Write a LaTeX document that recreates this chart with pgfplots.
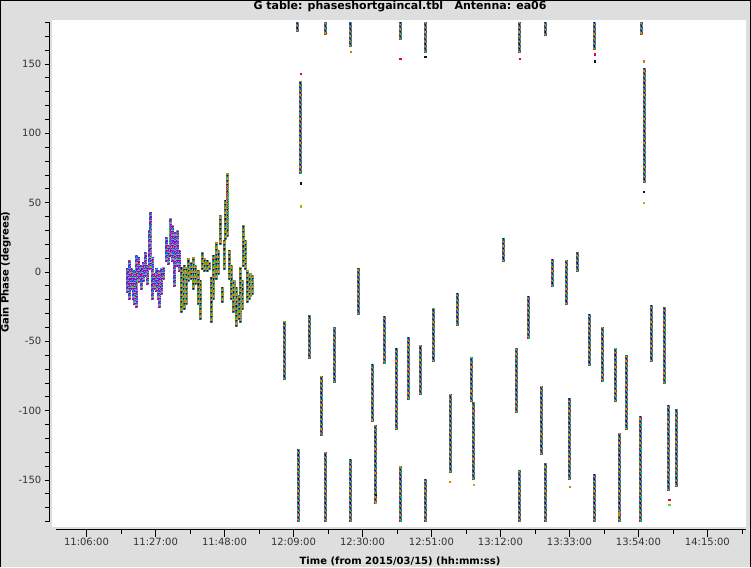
\documentclass[border=0pt]{standalone}
\usepackage{fontspec}
\setmainfont{DejaVu Sans}
\usepackage{pgfplots}
\pgfplotsset{compat=1.18}
\usepackage{pgfplotstable}

\definecolor{bggray}{RGB}{222,222,222}
\definecolor{cRed}{HTML}{E0005A}
\definecolor{cGreen}{HTML}{00D200}
\definecolor{cLime}{HTML}{7FCC00}
\definecolor{cBlue}{HTML}{0050FF}
\definecolor{cPurple}{HTML}{7F00FF}
\definecolor{cLav}{HTML}{B070E0}
\definecolor{cOrange}{HTML}{D08000}
\definecolor{cTeal}{HTML}{0096B4}
\definecolor{cBlack}{HTML}{141414}

% t = minutes after 11:00:00, lo/hi = gain phase range of the scan (deg)
\pgfplotstableread{
t lo hi
18.33 -15.1 2.9
18.94 -20.2 8.7
19.55 -13.0 2.9
20.16 -20.2 -2.2
20.76 -23.8 1.4
21.07 -13.0 12.3
21.37 -26.0 -5.8
21.98 -7.9 10.8
22.59 -13.0 5.0
23.20 -7.2 7.2
23.81 -3.6 14.4
24.42 -9.4 5.0
25.03 1.4 30.3
25.33 7.2 43.3
25.63 1.4 33.9
25.94 -20.2 10.8
26.55 -13.0 -0.7
27.16 -14.4 2.9
27.77 -20.2 1.4
28.37 -26.0 -2.2
28.98 -16.6 2.9
29.59 -5.8 3.6
30.20 7.2 25.2
30.81 5.0 19.5
31.42 10.8 33.9
31.72 15.9 38.9
32.03 7.2 33.9
32.64 -10.8 25.2
33.24 7.2 28.8
33.85 3.6 30.3
34.46 0.0 15.9
}\bandA

\pgfplotstableread{
t lo hi
34.77 -29.6 3.6
35.38 -20.2 1.4
35.98 -27.4 5.0
36.59 -23.8 3.6
37.20 -7.2 10.1
37.81 -5.8 7.2
38.72 -13.0 10.8
39.33 -9.4 5.0
39.94 -23.8 1.4
40.55 -34.6 -5.8
41.46 1.4 14.4
42.07 0.0 10.1
42.68 0.0 8.7
43.29 1.4 7.2
44.20 -36.8 -3.6
44.81 -20.2 12.3
45.42 -5.8 21.6
46.03 -2.2 15.9
46.64 19.5 41.1
47.25 -22.4 -10.8
47.86 1.4 23.1
48.46 23.1 51.9
48.77 30.3 71.4
49.07 25.2 62.7
49.38 -5.8 15.9
49.99 -20.2 5.0
50.60 -29.6 -5.8
51.20 -23.8 -5.8
51.81 -39.7 -10.8
52.42 -34.6 -16.6
52.73 -36.8 3.6
53.34 -27.4 -5.8
53.94 3.6 33.9
54.25 1.4 23.1
54.86 -22.4 1.4
55.47 -20.2 -2.2
56.07 -18.0 -0.7
56.68 -16.6 -2.2
}\bandB

\pgfplotstableread{
t lo hi
66.21 -78 -35
70.38 -180 -128
70.20 173 180
71.20 71 138
73.82 -63 -31
77.59 -118 -75
78.81 -180 -130
78.81 171 180
81.43 -80 -40
86.42 -180 -135
86.42 162 180
88.74 -31 3
93.12 -108 -66
94.03 -167 -110
96.56 -66 -32
100.42 -114 -55
101.43 -180 -140
101.43 167 180
103.95 -92 -47
107.73 -89 -53
109.04 -180 -149
109.04 158 180
111.56 -65 -26
116.65 -145 -88
118.99 -39 -15
123.19 -94 -61
123.95 -150 -94
132.87 7 24.5
136.95 -102 -55
137.95 -180 -143
137.95 158 180
140.48 -48 -17
144.44 -132 -82
145.57 -180 -138
145.57 170 180
147.91 -11 9.4
151.96 -24 8.7
152.96 -150 -91
155.52 0 14.5
159.26 -68 -30
160.57 -180 -146
160.57 160 180
163.13 -79 -40
166.96 -94 -55
168.09 -180 -116
170.44 -114 -60
174.49 -180 -104
174.80 171 180
175.70 64 147
178.13 -65 -24
182.09 -81 -25
183.22 -158 -96
185.44 -155 -99
}\scans

\pgfplotsset{
  seg/.style={draw=none, no markers, forget plot,
    error bars/y dir=plus, error bars/y explicit, error bars/error mark=none},
}
% one coloured dash layer: #1 table, #2 colour, #3 xshift, #4 dash phase
\newcommand\segs[4]{%
  \addplot[seg, error bars/error bar style={draw=#2, line width=1pt,
      xshift=#3, dash pattern=on 1.2pt off 3.6pt, dash phase=#4}]
    table[x=t, y=lo, y error expr=\thisrow{hi}-\thisrow{lo}] {#1};
}
% one column of four colours: #1 table, #2 xshift, #3-#6 colours, #7 phase offset
\newcommand\segcol[7]{%
  \segs{#1}{#3}{#2}{#7}%
  \segs{#1}{#4}{#2}{\dimexpr#7+2.4pt\relax}%
  \segs{#1}{#5}{#2}{\dimexpr#7+1.2pt\relax}%
  \segs{#1}{#6}{#2}{\dimexpr#7+3.6pt\relax}}

\begin{document}
\begin{tikzpicture}
\useasboundingbox (0,0) rectangle (751pt,567pt);
\fill[bggray] (0,0) rectangle (751pt,567pt);
\fill[white] (52pt,40pt) rectangle (746pt,547pt);
\draw[black, line width=1pt] (0.5pt,0) -- (0.5pt,566.5pt) -- (750.5pt,566.5pt) -- (750.5pt,0);

\begin{axis}[
  at={(56pt,45.4pt)}, anchor=south west,
  scale only axis, width=690pt, height=499.2pt,
  xmin=-3.284, xmax=206.75, ymin=-180, ymax=180,
  axis x line=bottom, axis y line=left,
  axis x line shift=8.1pt, axis y line shift=6.7pt,
  axis line style={-, black, line width=0.8pt},
  every outer x axis line/.append style={-},
  every outer y axis line/.append style={-},
  tick align=outside,
  xtick={6,27,...,195},
  xticklabels={11:06:00,11:27:00,11:48:00,12:09:00,12:30:00,12:51:00,13:12:00,13:33:00,13:54:00,14:15:00},
  minor xtick={16.5,37.5,...,205.5},
  ytick={-150,-100,...,150},
  minor ytick={-180,-170,...,180},
  major tick length=4.5pt, minor tick length=4.5pt,
  xtick style={/pgfplots/major tick length=7.5pt},
  tick style={black, line width=0.8pt},
  ticklabel style={font=\fontsize{10}{12}\selectfont, color=black!80},
  /pgf/number format/assume math mode=true,
  clip=false,
]
% early dense calibrator scans
\segcol{\bandA}{-1pt}{cPurple}{cLav}{cBlue}{cGreen}{0pt}
\segcol{\bandA}{0pt}{cLav}{cRed}{cPurple}{cTeal}{2.4pt}
\segcol{\bandA}{1pt}{cBlue}{cPurple}{cLime}{cLav}{1.2pt}
\segcol{\bandB}{-1pt}{cTeal}{cOrange}{cGreen}{cRed}{0pt}
\segcol{\bandB}{0pt}{cLime}{cBlue}{cBlack}{cOrange}{2.4pt}
\segcol{\bandB}{1pt}{cOrange}{cTeal}{cLav}{cLime}{1.2pt}
% later scans
\segcol{\scans}{-1pt}{cRed}{cGreen}{cBlue}{cOrange}{0pt}
\segcol{\scans}{0pt}{cPurple}{cTeal}{cLime}{cBlack}{2.4pt}
\segcol{\scans}{1pt}{cLav}{cRed}{cTeal}{cGreen}{1.2pt}

% sparse points at the ends of scans
\addplot[only marks, mark=square*, mark size=0.6pt, color=cLime] coordinates {
  (71.25,47.5) (175.7,50) (123.75,-153.6) (183.4,-168) (94.0,-166.6)};
\addplot[only marks, mark=square*, mark size=0.6pt, color=cOrange] coordinates {
  (86.5,159) (153.2,-155) (167.9,-173.6) (116.6,-151.5) (175.6,152)};
\addplot[only marks, mark=square*, mark size=0.6pt, color=cRed] coordinates {
  (71.15,143) (101.5,154) (160.6,157) (183.4,-164.3) (137.9,154)};
\addplot[only marks, mark=square*, mark size=0.6pt, color=cBlack] coordinates {
  (160.6,152) (109.1,155) (71.2,64) (175.7,58) (94.0,-160.8)};
\end{axis}

\node[font=\fontsize{11}{13}\selectfont\bfseries] at (400pt,560.5pt)
  {G table: phaseshortgaincal.tbl\ \ \ Antenna: ea06};
\node[font=\fontsize{10}{12}\selectfont\bfseries] at (400pt,6pt)
  {Time (from 2015/03/15) (hh:mm:ss)};
\node[font=\fontsize{10}{12}\selectfont\bfseries, rotate=90] at (6pt,295pt)
  {Gain Phase (degrees)};
\end{tikzpicture}
\end{document}
